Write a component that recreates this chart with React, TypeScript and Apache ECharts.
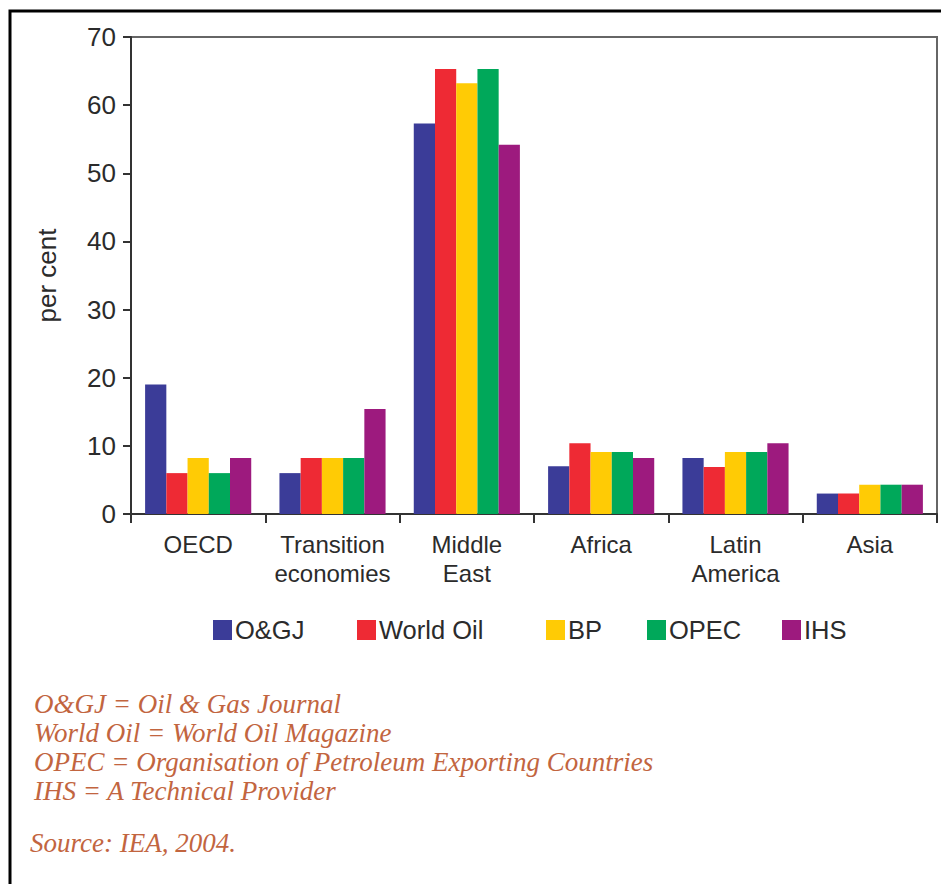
import React, { useEffect, useRef } from "react";
import * as echarts from "echarts";

const categories = ["OECD", "Transition\neconomies", "Middle\nEast", "Africa", "Latin\nAmerica", "Asia"];
const seriesNames = ["O&GJ", "World Oil", "BP", "OPEC", "IHS"];
const ogj = [19, 6, 57.3, 7, 8.2, 3];
const worldOil = [6, 8.2, 65.3, 10.4, 6.9, 3];
const bp = [8.2, 8.2, 63.2, 9.1, 9.1, 4.3];
const opec = [6, 8.2, 65.3, 9.1, 9.1, 4.3];
const ihs = [8.2, 15.4, 54.2, 8.2, 10.4, 4.3];
const yTicks = [0, 10, 20, 30, 40, 50, 60, 70];
const footnotes = [
  "O&GJ = Oil & Gas Journal",
  "World Oil = World Oil Magazine",
  "OPEC = Organisation of Petroleum Exporting Countries",
  "IHS = A Technical Provider",
];
const sourceNote = "Source: IEA, 2004.";

const colors = ["#3b3c98", "#ee2a34", "#ffcb05", "#00a85a", "#9d1a7e"];
const legendLefts = [213, 357, 546, 647, 782];
const FONT = "'Liberation Sans', Arial, sans-serif";
const SERIF = "'Liberation Serif', 'Times New Roman', serif";
const TEXT = "#2b2b2b";
const NOTE = "#c2653f";

export default function App() {
  const ref = useRef<HTMLDivElement>(null);
  useEffect(() => {
    document.body.style.margin = "0";
    if (!ref.current) return;
    const chart = echarts.init(ref.current, undefined, { renderer: "svg" });
    const allSeries = [ogj, worldOil, bp, opec, ihs];
    const noteY = [704.5, 733.5, 762.5, 791.5];
    chart.setOption({
      animation: false,
      color: colors,
      grid: {
        left: 131,
        right: 4,
        top: 37,
        bottom: 370,
        show: true,
        borderColor: "#666",
        borderWidth: 2,
        containLabel: false,
      },
      legend: seriesNames.map((n, i) => ({
        data: [n],
        left: legendLefts[i],
        top: 617,
        padding: 0,
        itemWidth: 19,
        itemHeight: 20,
        icon: "rect",
        itemGap: 0,
        textStyle: { fontFamily: FONT, fontSize: 25.5, color: TEXT, padding: [0, 0, 0, -2] },
      })),
      xAxis: {
        type: "category",
        data: categories,
        axisLine: { lineStyle: { color: "#333", width: 2 } },
        axisTick: { show: true, length: 9, lineStyle: { color: "#333", width: 2 } },
        axisLabel: {
          fontFamily: FONT,
          fontSize: 24,
          color: TEXT,
          margin: 16,
          lineHeight: 29,
          interval: 0,
        },
      },
      yAxis: {
        type: "value",
        min: 0,
        max: 70,
        interval: 10,
        name: "per cent",
        nameLocation: "middle",
        nameRotate: 90,
        nameGap: 71,
        nameTextStyle: { fontFamily: FONT, fontSize: 26, color: TEXT },
        axisLine: { show: true, lineStyle: { color: "#333", width: 2 } },
        axisTick: { show: true, length: 8, lineStyle: { color: "#333", width: 2 } },
        splitLine: { show: false },
        axisLabel: {
          fontFamily: FONT,
          fontSize: 26,
          color: TEXT,
          margin: 15,
          formatter: (v: number) => (yTicks.includes(v) ? String(v) : ""),
        },
      },
      series: seriesNames.map((n, i) => ({
        name: n,
        type: "bar",
        data: allSeries[i],
        barGap: "0%",
        barCategoryGap: "21%",
        itemStyle: { color: colors[i] },
      })),
      graphic: [
        {
          type: "rect",
          silent: true,
          shape: { x: 10, y: 11, width: 1000, height: 1000 },
          style: { fill: "none", stroke: "#000", lineWidth: 3 },
        },
        ...footnotes.map((t, i) => ({
          type: "text",
          left: 34,
          top: noteY[i] - 14,
          style: {
            text: t,
            font: `italic 27px ${SERIF}`,
            fill: NOTE,
          },
        })),
        {
          type: "text",
          left: 30,
          top: 843.5 - 14,
          style: { text: sourceNote, font: `italic 27px ${SERIF}`, fill: NOTE },
        },
      ],
    });
    return () => chart.dispose();
  }, []);
  return <div ref={ref} style={{ width: 941, height: 884 }} />;
}
